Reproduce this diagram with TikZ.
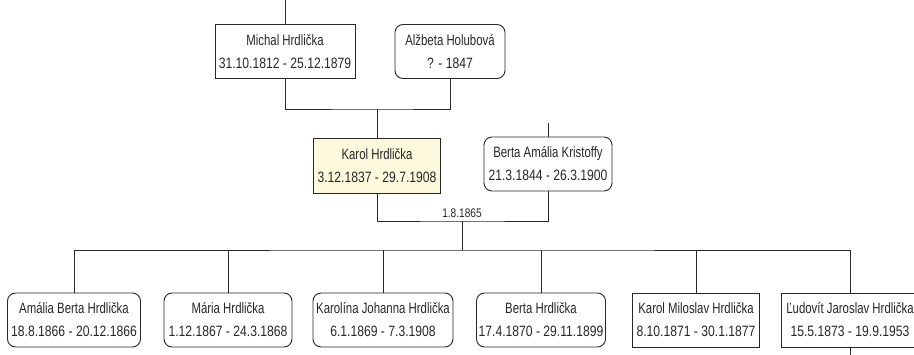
\documentclass[tikz,border=0pt]{standalone}
\usepackage{fontspec}
\setmainfont{Liberation Sans}[FakeStretch=0.76]
\newfontfamily\datefont{Liberation Sans}[FakeStretch=0.81]
\usetikzlibrary{calc}
\definecolor{inkline}{RGB}{40,40,40}
\definecolor{inktext}{RGB}{40,40,40}
\definecolor{focusfill}{RGB}{253,249,220}
\tikzset{
  person/.style={draw=inkline, line width=0.9pt, inner sep=0pt, align=center,
    text=inktext, font=\fontsize{15}{23}\selectfont, minimum height=54pt},
  male/.style={person},
  female/.style={person, rounded corners=8pt},
  focus/.style={person, fill=focusfill},
  link/.style={draw=inkline, line width=0.9pt},
  datelabel/.style={text=inktext, font=\datefont\fontsize{12.5}{14}\selectfont, inner sep=0pt}
}
\begin{document}
\begin{tikzpicture}[x=1pt,y=-1pt]
\useasboundingbox[fill=white] (0,0) rectangle (914,355);

% grandparents
\node[male,   minimum width=140pt] (mich) at (285,51.5) {Michal Hrdlička\\\datefont 31.10.1812 - 25.12.1879};
\node[female, minimum width=110pt] (alz)  at (450,51.5) {Alžbeta Holubová\\\datefont ? - 1847};

% couple
\node[focus,  minimum width=127pt, minimum height=55pt] (karol) at (377,165.5) {Karol Hrdlička\\\datefont 3.12.1837 - 29.7.1908};
\node[female, minimum width=128pt] (berta) at (548,164) {Berta Amália Kristoffy\\\datefont 21.3.1844 - 26.3.1900};

% children
\node[female, minimum width=133pt] (c1) at (74,320)  {Amália Berta Hrdlička\\\datefont 18.8.1866 - 20.12.1866};
\node[female, minimum width=128pt] (c2) at (228,320) {Mária Hrdlička\\\datefont 1.12.1867 - 24.3.1868};
\node[female, minimum width=140pt] (c3) at (383,320) {Karolína Johanna Hrdlička\\\datefont 6.1.1869 - 7.3.1908};
\node[female, minimum width=129pt] (c4) at (541,320) {Berta Hrdlička\\\datefont 17.4.1870 - 29.11.1899};
\node[male,   minimum width=127pt] (c5) at (696,320) {Karol Miloslav Hrdlička\\\datefont 8.10.1871 - 30.1.1877};
\node[male,   minimum width=138pt] (c6) at (850,320) {Ľudovít Jaroslav Hrdlička\\\datefont 15.5.1873 - 19.9.1953};

% stubs leading to relatives not shown
\coordinate (michup)  at (285,0);
\coordinate (bertaup) at (548,123);
\coordinate (c6down)  at (850,355);
\draw[link] (mich.north) -- (michup);
\draw[link] (berta.north) -- (bertaup);
\draw[link] (c6.south) -- (c6down);

% grandparents' family
\coordinate (gpbar) at (377,109);
\draw[link] (mich.south) |- (gpbar) -| (alz.south);
\draw[link] (gpbar) -- (karol.north);

% marriage
\coordinate (mbar) at (462,221);
\draw[link] (karol.south) |- (mbar) -| (berta.south);
\node[datelabel] (mdate) at (462,213) {1.8.1865};

% children bar
\coordinate (cbar) at (462,250);
\draw[link] (mbar) -- (cbar);
\draw[link] (c1.north) |- (cbar) -| (c6.north);
\foreach \c in {c2,c3,c4,c5}
  \draw[link] (\c.north) -- (\c.north |- cbar);
\end{tikzpicture}
\end{document}
